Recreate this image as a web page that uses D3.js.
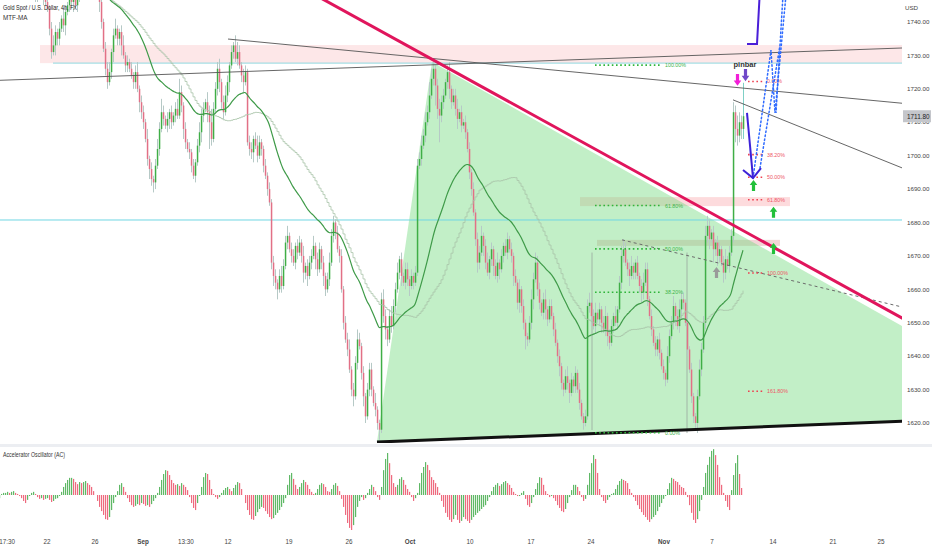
<!DOCTYPE html>
<html><head><meta charset="utf-8">
<script src="https://cdn.jsdelivr.net/npm/d3@7"></script>
<style>body{margin:0;background:#fff}svg{display:block}text{font-family:"Liberation Sans",Arial,sans-serif}</style>
</head><body><svg id="c" width="932" height="550"></svg>
<script>
// ---------- DATA ----------
// 4h closes before the visible window (needed for the moving averages)
const warmCloses = [1788,1791,1795,1793,1797,1800,1802,1798,1795,1790,1794,1797,1800,1805,1803,1799,1795,1792,1790,1787,1785,1789,1792,1795,1793,1790,1786,1782,1779,1776,1774,1772,1776,1778,1775,1773,1771,1768,1770,1772];
// visible 4h closes (bar index 0..372)
const closes = [
1772,1770,1774,1771,1768,1765, 1763,1760,1762,1758,1756,1759, 1757,1754,1752,1755,1751,1749, 1750,1748,1752,1749,1747,1746,
1744,1738,1731,1733,1737,1735, 1738,1741,1739,1743,1745,1748, 1746,1748,1745,1747,1751,1753, 1755,1757,1756,1758,1756,1754,
1752,1749,1746,1740,1732,1726, 1722,1725,1731,1736,1738,1735, 1737,1733,1730,1727,1728,1726, 1724,1722,1725,1720,1716,1713,
1710,1705,1699,1696,1693,1692, 1697,1702,1708,1713,1711,1709, 1711,1713,1710,1712,1714,1712, 1719,1715,1708,1704,1702,1701,
1697,1694,1698,1703,1707,1712, 1714,1716,1713,1710,1705,1714, 1720,1726,1722,1716,1713,1718, 1722,1727,1731,1733,1729,1731,
1727,1724,1722,1725,1704,1702, 1701,1705,1703,1700,1704,1702, 1697,1694,1690,1686,1668,1664, 1662,1660,1664,1661,1667,1674,
1676,1672,1670,1668,1673,1671, 1674,1670,1665,1667,1664,1668, 1670,1673,1669,1666,1672,1668, 1664,1660,1663,1668,1676,1680,
1677,1672,1670,1660,1650,1645, 1642,1636,1630,1628,1638,1645, 1643,1635,1628,1622,1630,1636, 1630,1626,1624,1620,1618,1657,
1652,1648,1645,1652,1649,1655, 1660,1665,1669,1664,1662,1666, 1663,1661,1664,1662,1665,1697, 1699,1703,1706,1710,1713,1718,
1723,1726,1721,1714,1712,1716, 1718,1722,1725,1720,1716,1718, 1714,1711,1713,1709,1710,1707, 1702,1695,1690,1683,1675,1668,
1671,1676,1673,1668,1665,1669, 1672,1667,1664,1668,1666,1670, 1673,1671,1675,1672,1670,1664, 1662,1656,1660,1655,1650,1646,
1645,1650,1657,1663,1668,1660, 1656,1653,1657,1654,1651,1655, 1652,1648,1644,1640,1637,1632, 1630,1634,1632,1629,1633,1631,
1635,1630,1626,1622,1620,1622, 1655,1656,1652,1649,1653,1651, 1654,1650,1648,1652,1646,1644, 1649,1652,1650,1654,1662,1670,
1672,1668,1666,1664,1667,1665, 1668,1664,1661,1659,1662,1666, 1657,1652,1648,1644,1642,1645, 1641,1637,1635,1633,1640,1646,
1650,1655,1652,1649,1654,1657, 1656,1650,1642,1636,1628,1622, 1620,1628,1636,1642,1650,1676, 1679,1675,1677,1672,1674,1670,
1672,1668,1665,1669,1667,1671, 1676,1713,1708,1706,1710,1708, 1711.8];
// upper / lower wick length beyond the body, in USD
const wickHi = [
2,3,1,2,3,2, 3,2,1,3,2,1, 2,3,2,1,2,3, 2,1,3,2,1,2, 2,1,2,3,2,1, 2,1,3,2,1,2, 3,2,1,2,3,2, 2,1,2,3,1,2,
1,2,1,3,1,2, 2,3,1,2,3,1, 1,2,3,1,2,1, 2,1,2,3,1,2, 2,1,3,1,2,1, 2,3,2,4,2,1, 2,1,2,1,2,3, 4,2,1,2,1,2,
1,2,1,2,3,2, 2,1,3,2,4,2, 2,2,3,1,2,3, 2,1,2,1,3,3, 2,1,2,2,1,2, 2,1,2,3,2,1, 1,2,1,2,1,2, 2,1,2,3,2,2,
3,1,2,2,1,2, 2,1,3,1,2,2, 2,3,1,2,2,1, 2,1,2,3,2,2, 1,2,1,2,1,2, 2,3,1,2,2,3, 2,1,2,1,2,2, 2,1,3,1,1,2,
3,2,1,2,3,2, 2,3,1,2,1,2, 2,1,2,1,2,2, 2,3,2,3,2,4, 3,2,1,2,3,2, 2,1,2,3,1,2, 2,3,1,2,1,2, 1,2,1,2,1,2,
2,3,1,2,3,1, 2,1,2,3,1,2, 1,2,2,1,2,1, 2,1,3,1,2,1, 1,2,3,2,3,2, 2,1,2,3,1,2, 2,1,2,1,2,1, 1,2,3,1,2,1,
2,1,2,1,1,2, 2,3,1,2,3,1, 2,1,2,3,1,2, 2,1,3,1,2,3, 3,2,1,2,3,1, 1,2,1,2,3,2, 2,1,2,1,2,1, 2,1,2,1,3,2,
2,3,1,2,3,2, 2,1,2,1,2,1, 1,2,3,2,2,3, 3,2,1,2,1,2, 2,1,2,3,1,2, 2,3,2,4,3,2, 10];
const wickLo = [
2,1,3,2,1,2, 1,2,3,1,2,2, 2,1,2,3,1,2, 3,2,1,2,2,1, 1,2,2,1,3,2, 2,1,2,3,1,2, 2,3,1,2,1,2, 1,2,2,1,2,3,
2,1,3,2,1,2, 2,1,2,3,1,2, 2,3,1,2,2,1, 1,2,2,1,3,2, 2,1,2,3,2,3, 2,1,2,1,2,1, 2,3,2,1,2,1, 1,2,3,2,1,2,
2,1,2,1,2,3, 2,1,3,8,2,1, 1,2,3,2,2,1, 2,3,1,2,1,2, 1,2,3,1,1,2, 2,3,1,2,1,2, 2,1,2,1,2,3, 2,3,1,2,1,1,
2,1,2,1,2,2, 1,2,3,2,3,1, 2,1,3,2,1,2, 3,2,1,2,1,2, 2,1,2,1,2,1, 2,1,2,3,1,2, 1,2,3,2,1,2, 2,1,2,2,3,1,
2,3,2,1,2,1, 2,1,2,3,1,2, 2,3,1,2,1,1, 1,2,1,2,1,2, 1,2,6,3,8,2, 2,1,2,3,2,1, 2,3,1,2,1,2, 1,2,2,1,2,3,
2,1,3,2,1,2, 2,3,1,2,3,1, 2,1,2,1,2,3, 1,2,3,2,2,4, 2,1,2,3,1,2, 2,1,2,3,2,1, 1,2,1,2,3,2, 2,1,2,3,1,2,
2,1,2,1,2,1, 1,2,3,1,2,1, 2,3,1,2,3,2, 1,2,1,2,1,2, 2,1,2,3,1,2, 2,1,2,3,2,1, 2,1,2,1,2,2, 2,1,2,2,1,2,
1,2,3,1,2,3, 2,1,2,1,2,2, 2,3,1,2,1,2, 2,3,1,4,2,3, 2,1,3,2,1,2, 1,2,4,3,2,3, 3];
// Accelerator Oscillator values per visible bar
const acValues = [
-0.9,0.3,0.6,0.6,0.9,0.6, 0.9,1.1,0.6,0.3,-0.3,-0.9, -1.7,-2.3,-1.4,-0.3,0.6,0.9, 0.3,-0.6,-1.1,-0.9,-1.4,-1.1,
-0.9,-1.4,-2,-1.7,-1.1,-0.9, -0.3,0.9,2.3,3.4,4.3,4.9, 4.9,4.6,3.7,3.1,3.7,3.4, 3.7,4,3.4,2.9,2.3,1.1,
0,-1.7,-3.4,-4.6,-5.7,-6.9, -7.1,-6.3,-4.3,-2.3,-0.6,1.1, 2.9,3.4,2.3,0.9,-0.9,-2, -2.9,-3.4,-3.1,-2.6,-2.9,-2.3,
-2.6,-3.1,-2.9,-3.4,-2.6,-1.7, -0.9,0.6,2.3,4.3,6,7.1, 6.9,5.7,4.3,3.4,2.9,3.1, 2.6,3.4,2.9,2.3,1.4,-0.6,
-2.3,-3.7,-4.3,-2.3,-0.3,2.3, 5.1,6.3,6,4.3,1.7,0.3, -0.6,-1.1,-0.6,0.6,1.4,2, 2.3,1.7,1.1,2,2.9,3.7,
3.4,1.7,0,-2.3,-4.3,-5.7, -6.9,-7.1,-6,-4.9,-4,-3.4, -3.7,-4.6,-5.4,-6.3,-6.9,-6.6, -5.7,-5.1,-4.3,-3.4,-2.3,-0.9,
2.9,5.7,6.3,4.6,2.9,1.7, 2.3,3.4,4.3,3.7,2.9,1.7, 0.9,0.3,0.6,1.7,2.9,3.4, 3.1,2.3,1.1,0.9,1.7,2.9,
3.4,2.6,1.1,-1.1,-3.4,-5.7, -8,-9.4,-10,-8.6,-6.3,-3.4, -1.7,-0.6,-1.4,-0.9,0.6,1.7, 2.9,2.3,1.1,-0.6,-1.4,2.3,
7.1,10.3,12,9.1,5.7,3.4, 2.3,2.9,4.6,5.1,4.3,2.9, 1.7,0.9,-0.6,-1.7,-0.9,0.6, 3.4,6.3,8,9.4,8.6,7.1,
5.1,4.3,3.4,2.3,0.6,-1.7, -3.4,-5.1,-6.3,-7.1,-7.7,-6.9, -5.7,-7.1,-8,-7.4,-6.3,-6.9, -7.4,-8,-7.1,-6.3,-5.7,-5.1,
-4.6,-4,-3.4,-2.9,-1.7,-0.6, 1.1,2.3,2.9,3.4,2.6,3.1, 3.7,4,3.4,2.9,2,0.9, 0.3,-0.3,-0.3,0.6,1.1,-1.1,
-2.9,-3.4,-2.3,-0.6,1.7,3.4, 5.1,4.9,2.9,1.1,0.3,-0.6, -0.3,-0.9,-1.7,-2.9,-3.7,-4.6, -4.9,-4,-2.3,-0.6,1.4,2.9,
2.9,2.3,1.1,-0.6,-1.7,-1.1, 2.9,6.3,9.1,11.4,10.3,6.3, 1.7,-0.6,-1.7,-2.3,-1.4,-0.6, 0.3,0.6,1.7,2.9,4,4.6,
4.3,4,3.4,1.7,0.6,-0.6, -1.7,-2.9,-4,-4.9,-5.7,-6.3, -7.1,-7.7,-6.9,-6.3,-5.7,-4.6, -3.4,-2.3,-1.1,-0.3,1.7,3.4,
4.9,4.6,4,3.7,2.9,2.3, 2,0.9,-0.6,-2.9,-5.1,-7.1, -8,-6.9,-4.6,-1.4,2.3,6.3, 8.6,10.9,12.6,13.1,11.4,8.6,
5.1,2.9,0.6,-1.7,-3.4,-4.3, 1.4,5.7,9.1,11.4,6,2];

// price axis ticks
const priceTicks = [1620,1630,1640,1650,1660,1670,1680,1690,1700,1710,1720,1730,1740];
const lastPrice = 1711.8;
// time axis labels and the bar index they sit on
const timeLabels = ["17:30","22","26","Sep","13:30","12","19","26","Oct","10","17","24","Nov","7","14","21","25"];
const timeIdx    = [4,24,48,72,93.5,114.5,145,175,205.5,235.5,266,296,332.5,356.5,387,417,441];

// drawings, in (bar index, price)
const zones = [[20.5,460,1733.1,1727.7],[290.5,395.5,1687.6,1684.9],[299,390.5,1674.8,1673.0]];
const cyanLevel = 1680.75;
const tealLevel = [27,1727.7];
const grayLines = [[[-2,1722.5],[460,1732.4]],[[114.5,1734.9],[460,1715.2]],[[367,1716.7],[460,1694.3]]];
const downTrend = [[153.5,1749.6],[460,1648.6]];
const baseLine = [[189,1614.3],[460,1620.7]];
const dashedLine = [[311.5,1674.8],[460,1653.5]];
const wedge = [[189,1614.3],[216.5,1728.0],[460,1646.2],[460,1620.7]];
const vLines = [[296.5,1671,1617.9],[344,1671,1617.0]];
const fibA = {i0:298,i1:330.5,lab:333,p0:1617.1,p1:1727.1};
const fibALevels = [1,0.618,0.5,0.382,0];
const fibALabels = ["100.00%","61.80%","50.00%","38.20%","0.00%"];
const fibB = {i0:374.5,i1:382,lab:384,p0:1722.2,p1:1664.9};
const fibBLevels = [0,0.382,0.5,0.618,1,1.618];
const fibBLabels = ["0.00%","38.20%","50.00%","61.80%","100.00%","161.80%"];
const downArrows = [[369,1724.4,1720.9],[373,1725.9,1722.3]];
const upArrows = [[377,1692.7,1689.4],[387,1684.7,1681.4],[387,1673.9,1670.6],[358.5,1666.7,1663.4]];
const pinbarLabel = [373,1726.6,"pinbar"];
const projShaft = [[374,1712.8],[377,1693.3]];
const projHead = [[372,1695.7],[377,1693.3],[381,1696.3]];
const projStep = [[374,1733.4],[379,1733.4],[380.5,1750]];
const dotPath1 = [[377,1693.3],[386,1731.6],[388,1712.8],[393.5,1748.1]];
const dotPath2 = [[380.5,1696.3],[390.5,1733.1],[388.5,1712.8],[392,1748.1]];

// ---------- CHART ----------
const svg = d3.select("#c");
const PR = 902;
const x = d3.scaleLinear().domain([0,451.5]).range([-1,902]);
const y = d3.scaleLinear().domain([1613.42,1746.58]).range([445,0]);
const P = ([i,p]) => [x(i), y(p)];
const line = d3.line();

const defs = svg.append("defs");
defs.append("clipPath").attr("id","cm").append("rect").attr("x",0).attr("y",0).attr("width",PR).attr("height",443);
defs.append("clipPath").attr("id","ca").append("rect").attr("x",0).attr("y",447).attr("width",PR).attr("height",86);

const g = svg.append("g").attr("clip-path","url(#cm)");

// zones
const zoneFill = ["rgba(242,54,69,0.12)","rgba(242,54,69,0.18)","rgba(200,90,90,0.25)"];
g.selectAll("rect.z").data(zones).join("rect")
  .attr("x",d=>x(d[0])).attr("width",d=>x(d[1])-x(d[0]))
  .attr("y",d=>y(d[2])).attr("height",d=>y(d[3])-y(d[2]))
  .attr("fill",(d,k)=>zoneFill[k]);

// wedge fill
g.append("path").attr("d",line(wedge.map(P))+"Z").attr("fill","rgba(120,220,130,0.45)");

// horizontal lines
g.append("line").attr("x1",0).attr("x2",PR).attr("y1",y(cyanLevel)).attr("y2",y(cyanLevel)).attr("stroke","#6fd6e3").attr("stroke-width",1);
g.append("line").attr("x1",x(tealLevel[0])).attr("x2",PR).attr("y1",y(tealLevel[1])).attr("y2",y(tealLevel[1])).attr("stroke","#8fd8e0").attr("stroke-width",1);

// vertical thin lines
g.selectAll("line.v").data(vLines).join("line")
  .attr("x1",d=>x(d[0])).attr("x2",d=>x(d[0])).attr("y1",d=>y(d[1])).attr("y2",d=>y(d[2]))
  .attr("stroke","#9aa7a0").attr("stroke-width",0.8);

// candles
const all = warmCloses.concat(closes);
const W0 = warmCloses.length;
const bars = closes.map((c,i)=>{
  const o = all[W0+i-1];
  const hi = Math.max(o,c)+wickHi[i], lo = Math.min(o,c)-wickLo[i];
  return {i,o,c,hi,lo};
});
g.selectAll("line.w").data(bars).join("line")
  .attr("x1",d=>x(d.i)+0.5).attr("x2",d=>x(d.i)+0.5).attr("y1",d=>y(d.hi)).attr("y2",d=>y(d.lo))
  .attr("stroke",d=>d.i===372?"#7fd0c6":"#b6c9c6").attr("stroke-width",1);
g.selectAll("rect.b").data(bars).join("rect")
  .attr("x",d=>x(d.i)-0.2).attr("width",1.5)
  .attr("y",d=>y(Math.max(d.o,d.c))).attr("height",d=>Math.max(0.8,Math.abs(y(d.o)-y(d.c))))
  .attr("fill",d=>d.c>=d.o?"#3fae46":"#e27086");

// moving averages (computed from closes)
const ema = []; const a = 2/(40+1);
all.forEach((c,k)=>{ ema[k] = k===0?c:ema[k-1]+a*(c-ema[k-1]); });
const sma50 = all.map((c,k)=>d3.mean(all.slice(Math.max(0,k-49),k+1)));
g.append("path").attr("d",d3.line().x(d=>x(d[0])).y(d=>y(d[1])).curve(d3.curveStepAfter)(closes.map((c,i)=>[i,sma50[W0+i]])))
  .attr("fill","none").attr("stroke","#a9c4a9").attr("stroke-width",0.8);
g.append("path").attr("d",d3.line().x(d=>x(d[0])).y(d=>y(d[1])).curve(d3.curveBasis)(closes.map((c,i)=>[i,ema[W0+i]])))
  .attr("fill","none").attr("stroke","#3e9a48").attr("stroke-width",1.2);

// trend lines
g.selectAll("path.gl").data(grayLines).join("path").attr("d",d=>line(d.map(P)))
  .attr("stroke","#555").attr("stroke-width",0.9).attr("fill","none");
g.append("path").attr("d",line(dashedLine.map(P))).attr("stroke","#6b6b6b").attr("stroke-width",1).attr("stroke-dasharray","3,3").attr("fill","none");
g.append("path").attr("d",line(downTrend.map(P))).attr("stroke","#e0155c").attr("stroke-width",3).attr("fill","none");
g.append("path").attr("d",line(baseLine.map(P))).attr("stroke","#111").attr("stroke-width",3).attr("fill","none");

// fib levels
function fib(f, levels, labels, col, lcol){
  levels.forEach((lv,k)=>{
    const p = f.p0 + (f.p1-f.p0)*lv;
    g.append("line").attr("x1",x(f.i0)).attr("x2",x(f.i1)).attr("y1",y(p)).attr("y2",y(p))
      .attr("stroke",col).attr("stroke-width",1.6).attr("stroke-dasharray","1.6,2.6");
    g.append("text").attr("x",x(f.lab)).attr("y",y(p)+2).attr("font-size",5.3).attr("fill",lcol).text(labels[k]);
  });
}
fib(fibA, fibALevels, fibALabels, "#2fb53a", "#3fb34a");
fib(fibB, fibBLevels, fibBLabels, "#ee4050", "#ee5566");

// projection drawings
[dotPath1,dotPath2].forEach(pth=>g.append("path").attr("d",line(pth.map(P))).attr("fill","none")
  .attr("stroke","#2f6bff").attr("stroke-width",1.5).attr("stroke-dasharray","1.5,2.5").attr("stroke-linecap","round"));
g.append("path").attr("d",line(projShaft.map(P))).attr("stroke","#3d22d8").attr("stroke-width",2).attr("fill","none");
g.append("path").attr("d",line(projHead.map(P))).attr("stroke","#3d22d8").attr("stroke-width",2).attr("fill","none");
g.append("path").attr("d",line(projStep.map(P))).attr("stroke","#4a1fd8").attr("stroke-width",2).attr("fill","none");

// arrows
function arrow(cx, yTail, yTip, col){
  const dir = yTip>yTail?1:-1, L = Math.abs(yTip-yTail), hh = L*0.45;
  const yb = yTip - dir*hh;
  const pts = [[cx-1.6,yTail],[cx+1.6,yTail],[cx+1.6,yb],[cx+3.8,yb],[cx,yTip],[cx-3.8,yb],[cx-1.6,yb]];
  g.append("path").attr("d",line(pts)+"Z").attr("fill",col);
}
const downCol = ["#f21fd8","#7048c8"];
downArrows.forEach((d,k)=>arrow(x(d[0])+0.5,y(d[1]),y(d[2]),downCol[k]));
const upCol = ["#22c03a","#22c03a","#22c03a","#9a9a9a"];
upArrows.forEach((d,k)=>arrow(x(d[0])+0.5,y(d[2]),y(d[1]),upCol[k]));
g.append("text").attr("x",x(pinbarLabel[0])).attr("y",y(pinbarLabel[1])).attr("text-anchor","middle")
  .attr("font-size",7.5).attr("font-weight","bold").attr("fill","#333").text(pinbarLabel[2]);

// separator
svg.append("rect").attr("x",0).attr("y",444).attr("width",932).attr("height",3).attr("fill","#eceef2");

// accelerator oscillator
const acBars = acValues.map((v,i)=>({i,v,up:i===0||v>=acValues[i-1]}));
const ya = d3.scaleLinear().domain([0,12]).range([495,453]);
const ga = svg.append("g").attr("clip-path","url(#ca)");
ga.selectAll("rect").data(acBars).join("rect")
  .attr("x",d=>x(d.i)).attr("width",1.2)
  .attr("y",d=>Math.min(ya(0),ya(d.v))).attr("height",d=>Math.abs(ya(d.v)-ya(0)))
  .attr("fill",d=>d.up?"#5fb866":"#ee6a7e");

// texts
svg.append("text").attr("x",3).attr("y",10).attr("font-size",6.3).attr("fill","#222").attr("textLength",74).attr("lengthAdjust","spacingAndGlyphs").text("Gold Spot / U.S. Dollar, 4h, FX");
svg.append("text").attr("x",3).attr("y",20).attr("font-size",6.3).attr("fill","#333").text("MTF-MA");
svg.append("text").attr("x",3).attr("y",457).attr("font-size",6.3).attr("fill","#333").attr("textLength",62).attr("lengthAdjust","spacingAndGlyphs").text("Accelerator Oscillator (AC)");

// price axis
svg.selectAll("text.py").data(priceTicks).join("text")
  .attr("x",907).attr("y",d=>y(d)+2.2).attr("font-size",6.2).attr("fill","#444").text(d=>d3.format(".2f")(d));
svg.append("text").attr("x",905).attr("y",10).attr("font-size",6.2).attr("fill","#444").text("USD");
svg.append("rect").attr("x",903).attr("y",y(lastPrice)-6).attr("width",28).attr("height",12).attr("fill","#c4c6cb");
svg.append("text").attr("x",907).attr("y",y(lastPrice)+2.3).attr("font-size",6.4).attr("fill","#222").text(d3.format(".2f")(lastPrice));

// time axis
svg.selectAll("text.tx").data(timeLabels).join("text")
  .attr("x",(d,k)=>x(timeIdx[k])).attr("y",544).attr("text-anchor","middle").attr("font-size",6.3)
  .attr("font-weight",d=>/^[A-Z]/.test(d)?"bold":"normal").attr("fill","#444").text(d=>d);
</script></body></html>
